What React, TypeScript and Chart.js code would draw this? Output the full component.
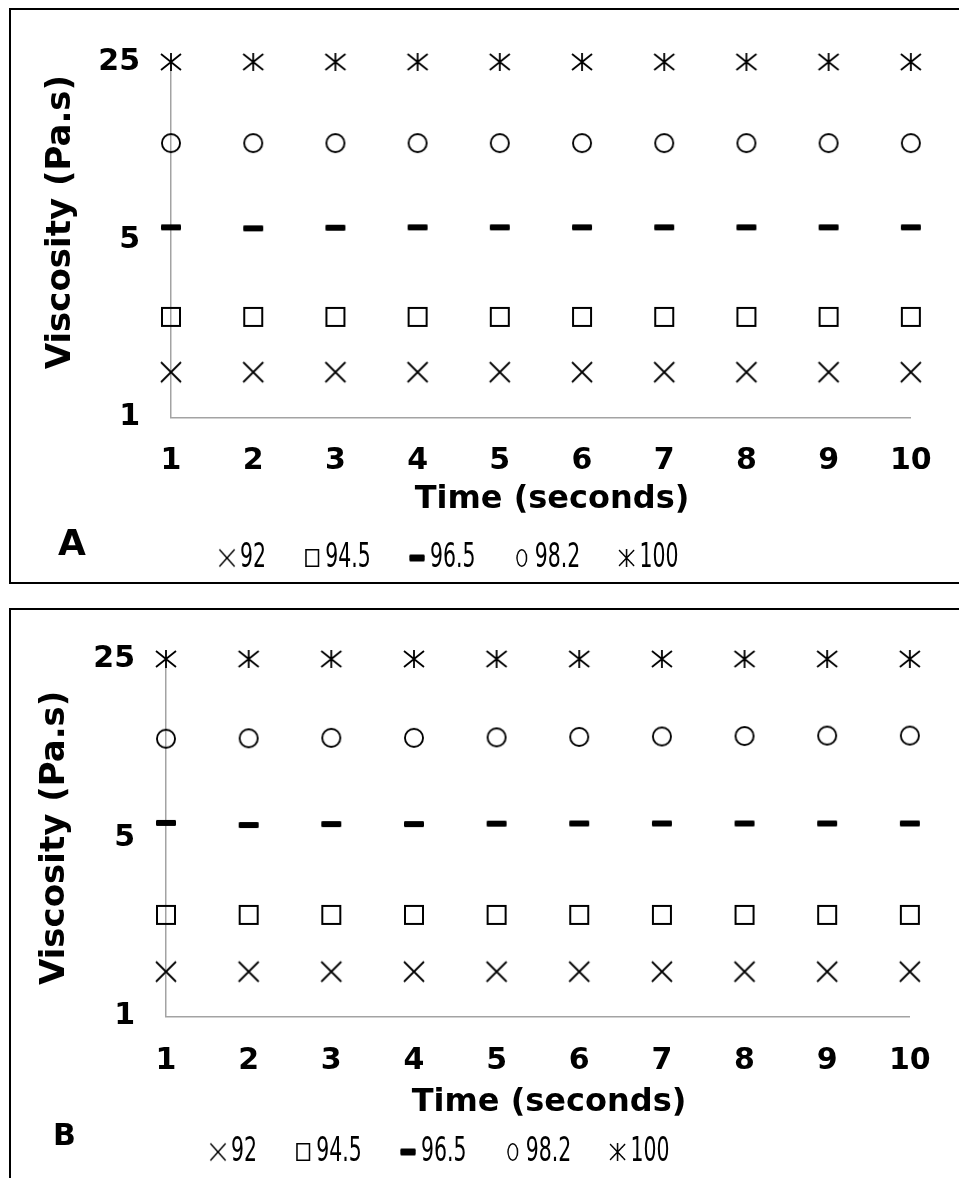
import { useEffect, useRef } from "react";
import { Chart, registerables } from "chart.js";

Chart.register(...registerables);

// ---------- data ----------
const timeSeconds = [1, 2, 3, 4, 5, 6, 7, 8, 9, 10];
const seriesNames = ["92", "94.5", "96.5", "98.2", "100"];
const viscosityTicks = [1, 5, 25];
const xTitle = "Time (seconds)";
const yTitle = "Viscosity (Pa.s)";

// Panel A
const a92 = [1.51, 1.51, 1.51, 1.51, 1.51, 1.51, 1.51, 1.51, 1.51, 1.51];
const a94_5 = [2.49, 2.49, 2.49, 2.49, 2.49, 2.49, 2.49, 2.49, 2.49, 2.49];
const a96_5 = [5.6, 5.55, 5.58, 5.6, 5.6, 5.6, 5.6, 5.6, 5.6, 5.6];
const a98_2 = [12.0, 12.0, 12.0, 12.0, 12.0, 12.0, 12.0, 12.0, 12.0, 12.0];
const a100 = [25, 25, 25, 25, 25, 25, 25, 25, 25, 25];

// Panel B
const b92 = [1.5, 1.5, 1.5, 1.5, 1.5, 1.5, 1.5, 1.5, 1.5, 1.5];
const b94_5 = [2.5, 2.5, 2.5, 2.5, 2.5, 2.5, 2.5, 2.5, 2.5, 2.5];
const b96_5 = [5.72, 5.61, 5.66, 5.66, 5.68, 5.69, 5.69, 5.69, 5.69, 5.69];
const b98_2 = [12.2, 12.25, 12.3, 12.3, 12.35, 12.4, 12.45, 12.5, 12.55, 12.55];
const b100 = [25, 25, 25, 25, 25, 25, 25, 25, 25, 25];

// ---------- styling ----------
const BOLD_FAMILY = '"DejaVu Sans", Verdana, sans-serif';
const LEGEND_FAMILY = '"DejaVu Sans", Verdana, sans-serif';
const AXIS_COLOR = "#a3a3a3";
const LEGEND_FONT = 33;
const LEGEND_PAD = 70;
const LEGEND_BOX = 9;
const LEGEND_SX = 0.62; // horizontal squeeze of the legend row

type Kind = "cross" | "square" | "dash" | "circle" | "star";
const kinds: Kind[] = ["cross", "square", "dash", "circle", "star"];

function makeMarker(kind: Kind, w: number, h: number, lw: number, stretch = 1): HTMLCanvasElement {
  const pad = 2;
  const c = document.createElement("canvas");
  c.width = Math.round((w + pad * 2) * stretch);
  c.height = h + pad * 2;
  const g = c.getContext("2d")!;
  g.scale(c.width / (w + pad * 2), 1);
  g.strokeStyle = "#000";
  g.fillStyle = "#000";
  g.lineWidth = lw;
  g.lineCap = "butt";
  const x0 = pad, y0 = pad, x1 = pad + w, y1 = pad + h;
  const cx = (x0 + x1) / 2, cy = (y0 + y1) / 2;
  g.beginPath();
  if (kind === "cross") {
    g.moveTo(x0, y0); g.lineTo(x1, y1);
    g.moveTo(x1, y0); g.lineTo(x0, y1);
    g.stroke();
  } else if (kind === "square") {
    g.rect(x0 + lw / 2, y0 + lw / 2, w - lw, h - lw);
    g.stroke();
  } else if (kind === "dash") {
    const r = Math.min(1.2, h / 2);
    g.moveTo(x0 + r, y0);
    g.lineTo(x1 - r, y0);
    g.quadraticCurveTo(x1, y0, x1, y0 + r);
    g.lineTo(x1, y1 - r);
    g.quadraticCurveTo(x1, y1, x1 - r, y1);
    g.lineTo(x0 + r, y1);
    g.quadraticCurveTo(x0, y1, x0, y1 - r);
    g.lineTo(x0, y0 + r);
    g.quadraticCurveTo(x0, y0, x0 + r, y0);
    g.fill();
  } else if (kind === "circle") {
    g.ellipse(cx, cy, (w - lw) / 2, (h - lw) / 2, 0, 0, Math.PI * 2);
    g.stroke();
  } else if (kind === "star") {
    g.moveTo(cx, y0); g.lineTo(cx, y1);
    const dy = h * 0.44;
    g.moveTo(x0, cy - dy); g.lineTo(x1, cy + dy);
    g.moveTo(x1, cy - dy); g.lineTo(x0, cy + dy);
    g.stroke();
  }
  return c;
}

function dataMarker(kind: Kind) {
  if (kind === "cross") return makeMarker(kind, 20, 20, 1.8);
  if (kind === "square") return makeMarker(kind, 20, 20, 2);
  if (kind === "dash") return makeMarker(kind, 20, 6, 1);
  if (kind === "circle") return makeMarker(kind, 20, 20, 1.9);
  return makeMarker(kind, 20, 18, 1.8);
}

function legendMarker(kind: Kind) {
  const s = 1 / LEGEND_SX;
  if (kind === "cross") return makeMarker(kind, 15, 17, 1.4, s);
  if (kind === "square") return makeMarker(kind, 14, 18, 1.5, s);
  if (kind === "dash") return makeMarker(kind, 15, 7, 1, s);
  if (kind === "circle") return makeMarker(kind, 11, 18, 1.4, s);
  return makeMarker(kind, 15, 18, 1.4, s);
}

type PanelSpec = {
  letter: string;
  letterSize: number;
  letterX: number;
  letterY: number;
  values: number[][];
  panelTop: number;
  canvasH: number;
  padTop: number;
  padRight: number;
  padBottom: number;
  yWidth: number;
  xHeight: number;
  yTitlePad: number;
  yTitleLift: number;
  xTickPad: number;
  legendX: number;
  legendY: number;
};

const CANVAS_W = 946;

const panelA: PanelSpec = {
  letter: "A",
  letterSize: 36,
  letterX: 47,
  letterY: 545,
  values: [a92, a94_5, a96_5, a98_2, a100],
  panelTop: 0,
  canvasH: 572,
  padTop: 52,
  padRight: 44,
  padBottom: 22.8,
  yWidth: 160,
  xHeight: 101.5,
  yTitlePad: 30,
  yTitleLift: 3,
  xTickPad: 25.3,
  legendX: 216,
  legendY: 548,
};

const panelB: PanelSpec = {
  letter: "B",
  letterSize: 30,
  letterX: 42,
  letterY: 535,
  values: [b92, b94_5, b96_5, b98_2, b100],
  panelTop: 600,
  canvasH: 570,
  padTop: 30,
  padRight: 45.3,
  padBottom: 17.8,
  yWidth: 155,
  xHeight: 105.5,
  yTitlePad: 23.6,
  yTitleLift: 0,
  xTickPad: 26.3,
  legendX: 207,
  legendY: 542,
};

function buildConfig(spec: PanelSpec): any {
  const dMarkers = kinds.map(dataMarker);
  const lMarkers = kinds.map(legendMarker);

  const legendPlace = {
    id: "legendPlace",
    afterLayout(chart: any) {
      const lg = chart.legend;
      if (!lg) return;
      lg.left = spec.legendX / LEGEND_SX - LEGEND_PAD - LEGEND_BOX / 2;
      lg.right = lg.left + 2000;
      lg.width = 2000;
      lg.top = spec.legendY - LEGEND_PAD - LEGEND_FONT / 2;
      lg.bottom = lg.top + LEGEND_PAD * 2 + LEGEND_FONT + 10;
      lg.height = lg.bottom - lg.top;
      if (!lg.__squeezed) {
        const orig = lg.draw;
        lg.draw = function (...args: any[]) {
          const ctx = this.ctx;
          ctx.save();
          ctx.scale(LEGEND_SX, 1);
          orig.apply(this, args);
          ctx.restore();
        };
        lg.__squeezed = true;
      }
    },
  };

  const panelLetter = {
    id: "panelLetter",
    afterDraw(chart: any) {
      const ctx = chart.ctx;
      ctx.save();
      ctx.font = `bold ${spec.letterSize}px ${BOLD_FAMILY}`;
      ctx.fillStyle = "#000";
      ctx.textBaseline = "alphabetic";
      ctx.textAlign = "left";
      ctx.fillText(spec.letter, spec.letterX, spec.letterY);
      ctx.restore();
    },
  };

  return {
    type: "scatter",
    data: {
      datasets: seriesNames.map((name, i) => ({
        label: name,
        data: timeSeconds.map((t, j) => ({ x: t, y: spec.values[i][j] })),
        pointStyle: dMarkers[i],
        showLine: false,
        clip: false,
        borderColor: "#000",
        backgroundColor: "#000",
      })),
    },
    options: {
      animation: false,
      responsive: false,
      events: [],
      layout: {
        padding: { top: spec.padTop, right: spec.padRight, bottom: spec.padBottom, left: 0 },
      },
      scales: {
        x: {
          type: "linear",
          min: timeSeconds[0],
          max: timeSeconds[timeSeconds.length - 1],
          afterBuildTicks: (s: any) => {
            s.ticks = timeSeconds.map((v) => ({ value: v }));
          },
          afterFit: (s: any) => {
            s.height = spec.xHeight;
          },
          grid: { display: false, drawTicks: false },
          border: { display: true, color: AXIS_COLOR, width: 1.5 },
          ticks: {
            color: "#000",
            padding: spec.xTickPad,
            maxRotation: 0,
            autoSkip: false,
            font: { family: BOLD_FAMILY, size: 30, weight: "bold" },
            callback: (v: any) => String(v),
          },
          title: {
            display: true,
            text: "  " + xTitle,
            color: "#000",
            padding: { top: 0, bottom: 0 },
            font: { family: BOLD_FAMILY, size: 32, weight: "bold" },
          },
        },
        y: {
          type: "logarithmic",
          min: viscosityTicks[0],
          max: viscosityTicks[viscosityTicks.length - 1],
          afterBuildTicks: (s: any) => {
            s.ticks = viscosityTicks.map((v) => ({ value: v }));
          },
          afterFit: (s: any) => {
            s.width = spec.yWidth;
          },
          grid: { display: false, drawTicks: false },
          border: { display: true, color: AXIS_COLOR, width: 1.5 },
          ticks: {
            color: "#000",
            padding: 31,
            autoSkip: false,
            font: { family: BOLD_FAMILY, size: 30, weight: "bold" },
            callback: (v: any) => String(v),
          },
          title: {
            display: true,
            text: " ".repeat(spec.yTitleLift) + yTitle,
            color: "#000",
            padding: { top: spec.yTitlePad, bottom: 0 },
            font: { family: BOLD_FAMILY, size: 34, weight: "bold" },
          },
        },
      },
      plugins: {
        tooltip: { enabled: false },
        legend: {
          display: true,
          position: "bottom",
          align: "start",
          maxHeight: 40,
          labels: {
            usePointStyle: true,
            boxWidth: LEGEND_BOX,
            pointStyleWidth: LEGEND_BOX,
            padding: LEGEND_PAD,
            color: "#000",
            font: { family: LEGEND_FAMILY, size: LEGEND_FONT, weight: "normal" },
            generateLabels: (chart: any) =>
              (Chart.defaults.plugins.legend.labels as any)
                .generateLabels(chart)
                .map((it: any, i: number) => ({ ...it, pointStyle: lMarkers[i], fontColor: "#000" })),
          },
        },
      },
    },
    plugins: [legendPlace, panelLetter],
  };
}

function Panel({ spec }: { spec: PanelSpec }) {
  const ref = useRef<HTMLCanvasElement | null>(null);
  useEffect(() => {
    if (!ref.current) return;
    const chart = new Chart(ref.current, buildConfig(spec));
    return () => chart.destroy();
  }, [spec]);
  return (
    <div
      style={{
        position: "absolute",
        left: 0,
        top: spec.panelTop,
        width: 952,
        height: spec.canvasH,
        border: "2px solid #000",
        background: "#fff",
      }}
    >
      <canvas
        ref={ref}
        width={CANVAS_W}
        height={spec.canvasH}
        style={{ display: "block", width: CANVAS_W, height: spec.canvasH }}
      />
    </div>
  );
}

export default function App() {
  return (
    <div
      style={{
        position: "absolute",
        left: 9,
        top: 8,
        width: 950,
        height: 1170,
        overflow: "hidden",
        background: "#fff",
      }}
    >
      <Panel spec={panelA} />
      <Panel spec={panelB} />
    </div>
  );
}
